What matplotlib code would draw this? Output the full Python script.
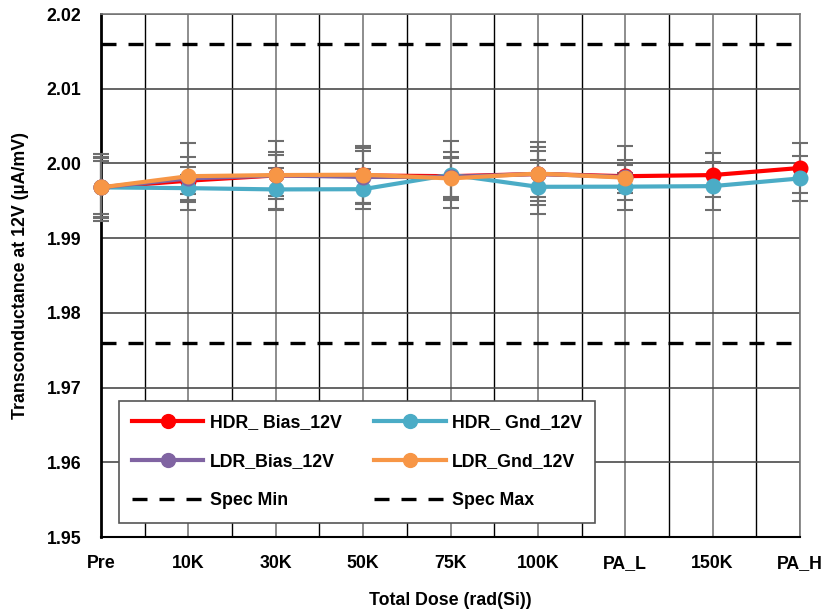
import matplotlib
matplotlib.use('Agg')
import matplotlib.pyplot as plt
import numpy as np

plt.rcParams['font.family'] = ['Liberation Sans', 'DejaVu Sans']
plt.rcParams['font.weight'] = 'bold'

categories = ["Pre", "10K", "30K", "50K", "75K", "100K", "PA_L", "150K", "PA_H"]

# transconductance values (uA/mV); LDR units stop at PA_L
hdr_bias = [1.9968, 1.9977, 1.9984, 1.9984, 1.9983, 1.9986, 1.9983, 1.99845, 1.9994]
hdr_gnd = [1.9968, 1.9967, 1.99653, 1.99656, 1.9985, 1.99688, 1.9969, 1.99697, 1.9980]
ldr_bias = [1.9968, 1.9980, 1.9984, 1.9982, 1.9982, 1.9986, 1.9982]
ldr_gnd = [1.9968, 1.9983, 1.99845, 1.9985, 1.9980, 1.99866, 1.9981]

# error bar half-widths
hdr_bias_err = [0.0040, 0.0018, 0.0031, 0.0037, 0.0032, 0.0036, 0.0022, 0.0030, 0.0034]
hdr_gnd_err = [0.0036, 0.0018, 0.0028, 0.0027, 0.0045, 0.0036, 0.0018, 0.0032, 0.0030]
ldr_bias_err = [0.0041, 0.0029, 0.0027, 0.0035, 0.0027, 0.0031, 0.0016]
ldr_gnd_err = [0.0045, 0.0045, 0.0046, 0.0039, 0.0028, 0.0042, 0.0043]

spec_min = 1.976
spec_max = 2.016

fig = plt.figure(figsize=(8.26, 6.12), dpi=100)
ax = fig.add_axes([0.1223, 0.1225, 0.8462, 0.8545])

x = np.arange(len(categories))

series = [
    ("HDR_ Bias_12V", hdr_bias, hdr_bias_err, "#FF0000"),
    ("HDR_ Gnd_12V", hdr_gnd, hdr_gnd_err, "#4BACC6"),
    ("LDR_Bias_12V", ldr_bias, ldr_bias_err, "#8064A2"),
    ("LDR_Gnd_12V", ldr_gnd, ldr_gnd_err, "#F79646"),
]

# error bars behind the lines
for name, vals, errs, col in series:
    xs = x[:len(vals)]
    ax.errorbar(xs, vals, yerr=errs, fmt='none', ecolor="#6e6e6e",
                elinewidth=1.5, capsize=6, capthick=1.5, zorder=3, clip_on=False)

handles = {}
for i, (name, vals, errs, col) in enumerate(series):
    xs = x[:len(vals)]
    h, = ax.plot(xs, vals, color=col, linewidth=3, marker='o', markersize=10.5,
                 label=name, zorder=5 + i, clip_on=False)
    handles[name] = h

h_min, = ax.plot(x, [spec_min] * len(x), color='black', linewidth=2.4,
                 dashes=(4.5, 3.6), label="Spec Min", zorder=4)
h_max, = ax.plot(x, [spec_max] * len(x), color='black', linewidth=2.4,
                 dashes=(4.5, 3.6), label="Spec Max", zorder=4)

ax.set_xlim(0, len(categories) - 1)
ax.set_ylim(1.95, 2.02)
ax.set_xticks(x)
ax.set_xticklabels(categories)
ax.set_xticks(x[:-1] + 0.5, minor=True)
ax.set_yticks(np.arange(1.95, 2.0201, 0.01))
ax.yaxis.set_major_formatter(matplotlib.ticker.FormatStrFormatter('%.2f'))

ax.grid(True, which='major', axis='x', color='#7a7a7a', linewidth=1.2, zorder=1)
ax.grid(True, which='minor', axis='x', color='black', linewidth=1.0, zorder=1)
ax.grid(True, which='major', axis='y', color='#4a4a4a', linewidth=1.2, zorder=1)
ax.set_axisbelow(True)

ax.tick_params(axis='both', which='both', length=0, labelsize=12.8)
ax.tick_params(axis='x', pad=13)
ax.tick_params(axis='y', pad=14)

ax.spines['left'].set_linewidth(2)
ax.spines['left'].set_color('black')
ax.spines['bottom'].set_linewidth(1.5)
ax.spines['bottom'].set_color('black')
for s in ['top', 'right']:
    ax.spines[s].set_color('#7a7a7a')
    ax.spines[s].set_linewidth(1.2)

ax.set_xlabel("Total Dose (rad(Si))", fontsize=12.8, fontweight='bold', labelpad=14)
ax.set_ylabel("Transconductance at 12V (\u00b5A/mV)", fontsize=12.8, fontweight='bold', labelpad=13)

order = [handles["HDR_ Bias_12V"], handles["LDR_Bias_12V"], h_min,
         handles["HDR_ Gnd_12V"], handles["LDR_Gnd_12V"], h_max]
leg = ax.legend(handles=order, ncol=2, loc='upper left',
                bbox_to_anchor=(0.0258, 0.26), borderaxespad=0,
                fontsize=12.8, frameon=True, fancybox=False, edgecolor='#555555',
                framealpha=1, borderpad=0.75, labelspacing=1.24, handlelength=4.0,
                handletextpad=0.35, columnspacing=1.85, markerscale=0.95)
leg.get_frame().set_linewidth(1.2)
leg.set_zorder(20)

fig.savefig("out.png", dpi=100)
